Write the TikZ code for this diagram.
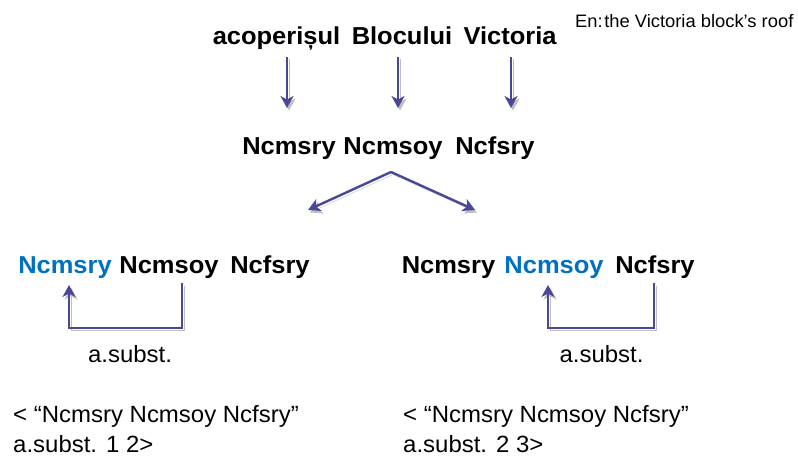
\documentclass[tikz,border=0pt]{standalone}
\usepackage{fontspec}
\setmainfont{Liberation Sans}[FakeStretch=1.02]
\newfontfamily\tagfont{Liberation Sans}[FakeStretch=1.04]
\usetikzlibrary{arrows.meta}
\definecolor{arrowblue}{RGB}{72,72,150}
\definecolor{wordblue}{RGB}{0,112,192}
\begin{document}
\begin{tikzpicture}[x=1pt,y=-1pt,
  word/.style={inner sep=0pt,anchor=base,font=\tagfont\fontsize{24.5}{28}\selectfont\bfseries},
  gloss/.style={inner sep=0pt,anchor=base west,font=\fontsize{23.5}{28}\selectfont},
  arr/.style={arrowblue,line width=2.4pt,-{Stealth[length=12pt,width=13pt,inset=3.5pt]},
    preaction={draw=black!25,transform canvas={shift={(2pt,-2.5pt)}}}}]
\useasboundingbox (0,0) rectangle (798,457);
% sentence and its tags
\node[word] (t1) at (276.5,45) {acoperișul};
\node[word] (t2) at (402,45) {Blocului};
\node[word] (t3) at (510,45) {Victoria};
\node[inner sep=0pt,anchor=base west,font=\fontsize{18}{20}\selectfont] (en) at (575,28) {En:\kern1.5pt the Victoria block’s roof};
\node[word] (m1) at (289,155) {Ncmsry};
\node[word] (m2) at (393,155) {Ncmsoy};
\node[word] (m3) at (495,155) {Ncfsry};
\draw[arr] ([xshift=10.5pt,yshift=-12pt]t1.base) -- ++(0,51);
\draw[arr] ([xshift=-4pt,yshift=-12pt]t2.base) -- ++(0,51);
\draw[arr] ([xshift=1pt,yshift=-12pt]t3.base) -- ++(0,51);
\coordinate (apex) at ([xshift=-2pt,yshift=-17pt]m2.base);
\draw[arr] (apex) -- ++(-83,38);
\draw[arr] (apex) -- ++(84,38);
% left: substitution 1 2
\node[word,wordblue] (l1) at (65,273) {Ncmsry};
\node[word] (l2) at (169,273) {Ncmsoy};
\node[word] (l3) at (270,273) {Ncfsry};
\draw[arr] ([xshift=13pt,yshift=-10pt]l2.base) -- ++(0,45) -| ([xshift=4pt,yshift=-12pt]l1.base);
\node[gloss,anchor=base] (ls) at (130,362) {a.subst.};
% right: substitution 2 3
\node[word] (r1) at (448.5,273) {Ncmsry};
\node[word,wordblue] (r2) at (554,273) {Ncmsoy};
\node[word] (r3) at (655,273) {Ncfsry};
\draw[arr] ([xshift=-1pt,yshift=-10pt]r3.base) -- ++(0,45) -| ([xshift=-6pt,yshift=-12pt]r2.base);
\node[gloss,anchor=base] (rs) at (601.5,362) {a.subst.};
% rules
\node[gloss] (lr1) at (13,422) {< “Ncmsry Ncmsoy Ncfsry”};
\node[gloss] (lr2) at (13,452) {a.subst. 1 2>};
\node[gloss] (rr1) at (403,422) {< “Ncmsry Ncmsoy Ncfsry”};
\node[gloss] (rr2) at (403,452) {a.subst. 2 3>};
\end{tikzpicture}
\end{document}
